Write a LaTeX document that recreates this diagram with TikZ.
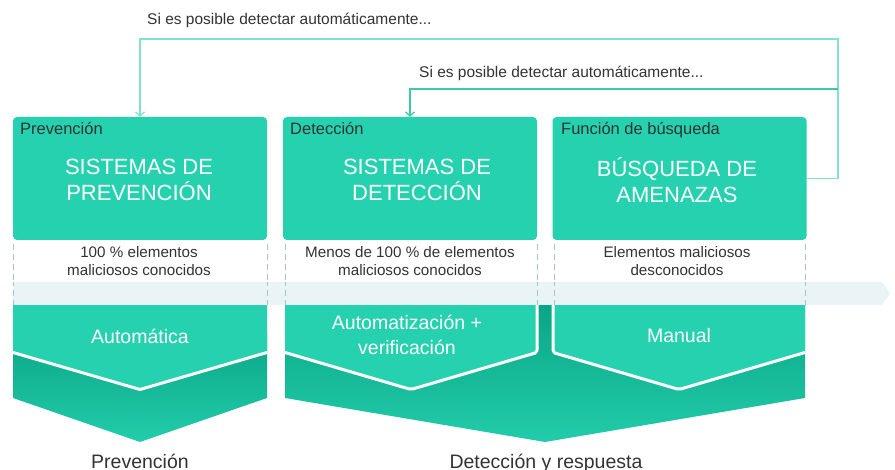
\documentclass[tikz,border=0pt]{standalone}
\usepackage{fontspec}
\setmainfont{Liberation Sans}
\usetikzlibrary{arrows.meta}
\definecolor{tealbox}{RGB}{38,209,176}
\definecolor{tealdarkA}{RGB}{9,165,134}
\definecolor{tealdarkB}{RGB}{34,204,170}
\definecolor{bandcol}{RGB}{234,243,245}
\definecolor{dashcol}{RGB}{168,196,196}
\definecolor{txtdark}{RGB}{51,51,51}
\definecolor{connA}{RGB}{130,225,209}
\definecolor{connB}{RGB}{60,201,168}
\tikzset{
  box/.style={fill=tealbox, rounded corners=4pt, minimum width=254pt, minimum height=123pt, inner sep=0pt},
  hdr/.style={anchor=base west, text=txtdark, font=\fontsize{16.5}{19}\selectfont, inner sep=0pt},
  title/.style={align=center, text=white, font=\fontsize{22}{26}\selectfont, inner sep=0pt},
  sub/.style={align=center, text=txtdark, font=\fontsize{15.2}{18}\selectfont, inner sep=0pt},
  low/.style={align=center, text=white, font=\fontsize{19.5}{25}\selectfont, inner sep=0pt},
  bottomlbl/.style={anchor=base, text=txtdark, font=\fontsize{19.5}{23}\selectfont, inner sep=0pt},
  toplbl/.style={anchor=west, text=txtdark, font=\fontsize{15.5}{18}\selectfont, inner sep=0pt},
  dashline/.style={draw=dashcol, line width=1pt, dash pattern=on 6pt off 4pt},
  darkpart/.style={top color=tealdarkA, bottom color=tealdarkB},
  sepline/.style={draw=white, line width=3pt, line join=round},
  conn/.style={line width=1.3pt, -{Straight Barb[length=4pt,width=9pt]}},
}
\begin{document}
\begin{tikzpicture}[x=1pt,y=-1pt]
\useasboundingbox (0,0) rectangle (895,470);

% boxes
\node[box] (b1) at (140,178.5) {};
\node[box] (b2) at (410,178.5) {};
\node[box] (b3) at (679.5,178.5) {};

\node[hdr] (h1) at (20,135) {Prevención};
\node[hdr] (h2) at (290,135) {Detección};
\node[hdr] (h3) at (561,135) {Función de búsqueda};

\node[title] (t1) at (139,180) {SISTEMAS DE\\PREVENCIÓN};
\node[title] (t2) at (417,180) {SISTEMAS DE\\DETECCIÓN};
\node[title] (t3) at (677,180) {BÚSQUEDA DE\\AMENAZAS};

% dashed lines
\foreach \xx in {13,267,285,537,554,805}
  \draw[dashline] (\xx,244) -- (\xx,305);

\node[sub] (s1) at (139,261) {100 \% elementos\\maliciosos conocidos};
\node[sub] (s2) at (410,261) {Menos de 100 \% de elementos\\maliciosos conocidos};
\node[sub] (s3) at (677,261) {Elementos maliciosos\\desconocidos};

% lower dark parts
\path[darkpart] (13,330) -- (267,330) -- (267,398) -- (140,442) -- (13,398) -- cycle;
\path[darkpart] (285,303) -- (805,303) -- (805,398) -- (545,442) -- (285,398) -- cycle;

% light parts
\fill[tealbox] (13,303) -- (267,303) -- (267,352.5) -- (140,389.5) -- (13,352.5) -- cycle;
\fill[tealbox] (285,303) -- (537,303) -- (537,352.5) -- (411,389.5) -- (285,352.5) -- cycle;
\fill[tealbox] (553,303) -- (805,303) -- (805,352.5) -- (679,389.5) -- (553,352.5) -- cycle;
\draw[sepline] (13,352.5) -- (140,389.5) -- (267,352.5);
\draw[sepline, rounded corners=2pt] (285,352.5) -- (411,389.5) -- (537,352.5) -- (537,300);
\draw[sepline, rounded corners=2pt] (553,300) -- (553,352.5) -- (679,389.5) -- (805,352.5);

% band
\fill[bandcol] (13,282) -- (882,282) -- (890,293.5) -- (882,305) -- (13,305) -- cycle;
\foreach \xx in {13,267,285,537,554,805}
  \draw[dashline, dash phase=2pt] (\xx,282) -- (\xx,305);

% lower labels
\node[low] (l1) at (140,336) {Automática};
\node[low] (l2) at (407,334.5) {Automatización +\\verificación};
\node[low] (l3) at (679,336) {Manual};

\node[bottomlbl] (p1) at (140,468) {Prevención};
\node[bottomlbl] (p2) at (546,468) {Detección y respuesta};

% connectors
\coordinate (c1) at (838,39);
\coordinate (c2) at (838,89);
\draw[conn, draw=connA] (b3.east) -| (c1) -| (b1.north);
\draw[conn, draw=connB] (c2) -| (b2.north);

\node[toplbl] (q1) at (147,20) {Si es posible detectar automáticamente...};
\node[toplbl] (q2) at (419,73) {Si es posible detectar automáticamente...};
\end{tikzpicture}
\end{document}
